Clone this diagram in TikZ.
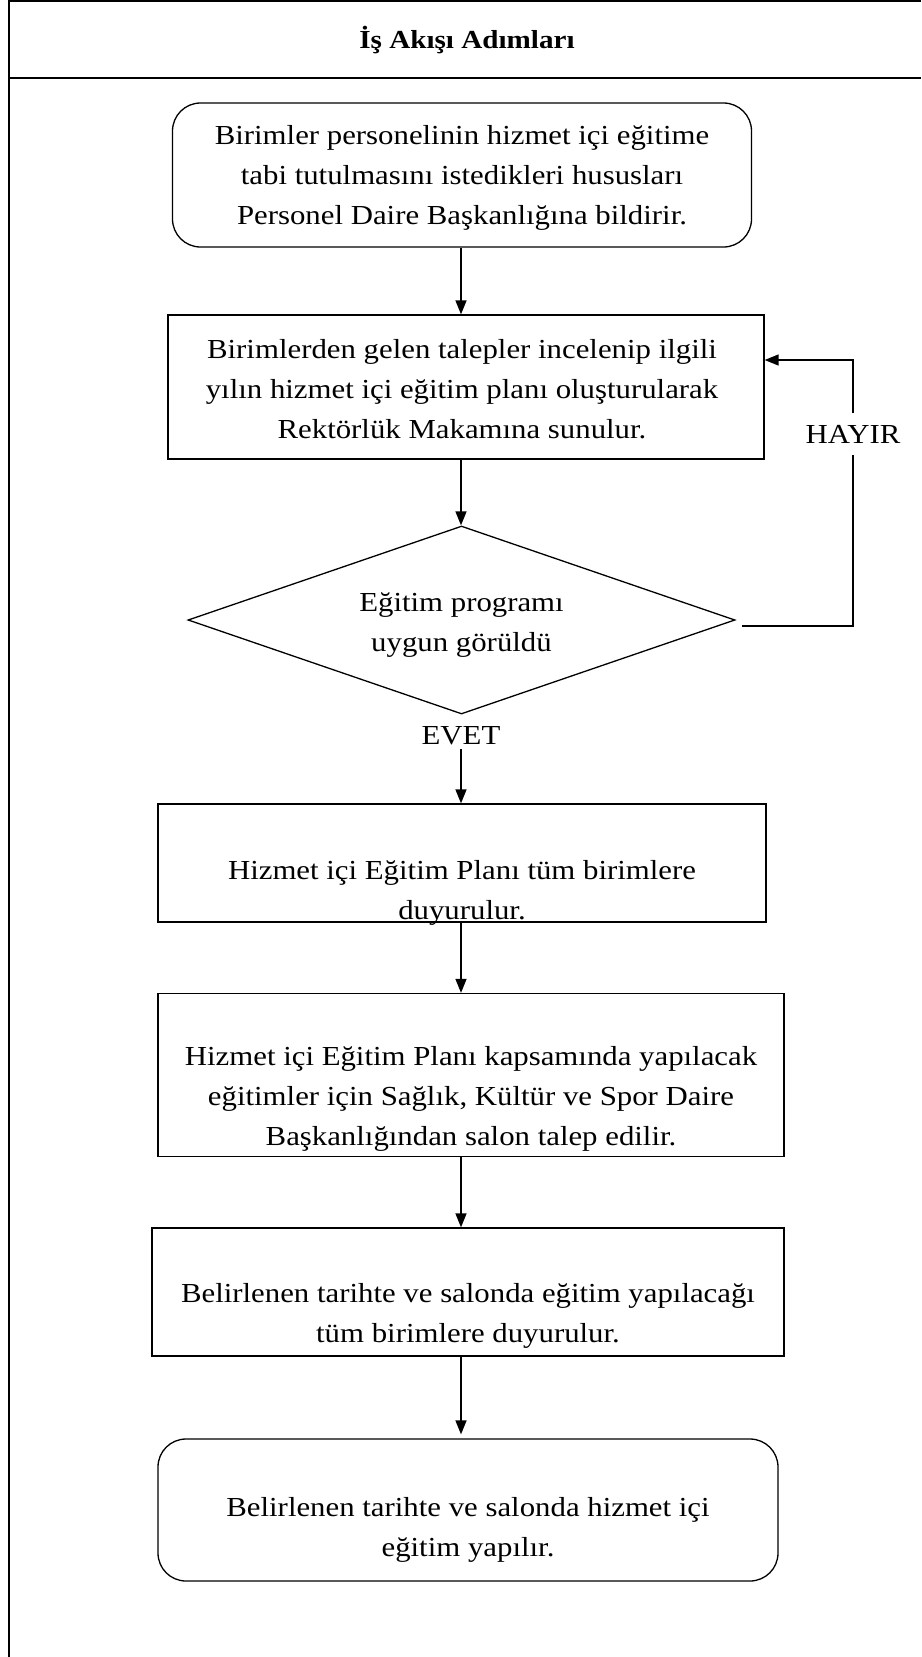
\documentclass[tikz,border=0pt]{standalone}
\usepackage{fontspec}
\setmainfont{Liberation Serif}[FakeStretch=1.12]
\usetikzlibrary{shapes.geometric,arrows.meta,calc}
\begin{document}
\begin{tikzpicture}[x=1pt,y=-1pt,
  every node/.style={font=\fontsize{27.5}{40}\selectfont, align=center},
  frame/.style={line width=2pt},
  stepbox/.style={draw, line width=1.3pt, inner sep=0pt},
  roundbox/.style={stepbox, rounded corners=28pt},
  conn/.style={line width=1.5pt},
  arr/.style={conn, -{Triangle[length=14pt,width=11pt]}}]
\useasboundingbox (0,0) rectangle (921,1657);
% outer frame (table cell)
\draw[frame] (921,1) -- (9,1) -- (9,1657);
\draw[frame] (9,78) -- (921,78);
\node[font=\fontsize{26}{36}\selectfont\bfseries] (title) at (467,40) {İş Akışı Adımları};
\coordinate (axis) at (461,0);
% step 1
\node[roundbox, minimum width=579pt, minimum height=144pt] (b1) at (462,175) {};
\node (b1t) at (462,178)
  {Birimler personelinin hizmet içi eğitime\\tabi tutulmasını istedikleri hususları\\Personel Daire Başkanlığına bildirir.};
% step 2
\node[stepbox, minimum width=596pt, minimum height=144pt] (b2) at (466,387) {};
\node (b2t) at (462,389)
  {Birimlerden gelen talepler incelenip ilgili\\yılın hizmet içi eğitim planı oluşturularak\\Rektörlük Makamına sunulur.};
% decision
\node[stepbox, diamond, shape aspect=2.9, minimum width=547pt, minimum height=188pt] (d) at (461.5,620) {};
\node (dt) at (461.5,625) {Eğitim programı\\uygun görüldü};
\node (evet) at (461,736) {EVET};
\node[inner ysep=12pt] (hayir) at (853,434) {HAYIR};
\coordinate (hs) at (742,626);
% step 3
\node[stepbox, minimum width=608pt, minimum height=118pt] (b3) at (462,863) {};
\node (b3t) at (462,893) {Hizmet içi Eğitim Planı tüm birimlere\\duyurulur.};
% step 4
\node[stepbox, minimum width=626pt, minimum height=163pt] (b4) at (471,1075) {};
\node (b4t) at (471,1099) {Hizmet içi Eğitim Planı kapsamında yapılacak\\eğitimler için Sağlık, Kültür ve Spor Daire\\Başkanlığından salon talep edilir.};
% step 5
\node[stepbox, minimum width=632pt, minimum height=128pt] (b5) at (468,1292) {};
\node (b5t) at (468,1316) {Belirlenen tarihte ve salonda eğitim yapılacağı\\tüm birimlere duyurulur.};
% step 6
\node[roundbox, minimum width=620pt, minimum height=142pt] (b6) at (468,1510) {};
\node (b6t) at (468,1530) {Belirlenen tarihte ve salonda hizmet içi\\eğitim yapılır.};
% connectors
\draw[arr] (b1.south -| axis) -- (b2.north -| axis);
\draw[arr] (b2.south -| axis) -- (d.north -| axis);
\draw[arr] (evet.south -| axis) -- (b3.north -| axis);
\draw[arr] (b3.south -| axis) -- (b4.north -| axis);
\draw[arr] (b4.south -| axis) -- (b5.north -| axis);
\draw[arr] (b5.south -| axis) -- ($(b6.north -| axis)+(0,-4)$);
\draw[conn] (hs) -| (hayir.south);
\draw[arr] (hayir.north) |- ($(b2.east)+(0,-27)$);
\end{tikzpicture}
\end{document}
